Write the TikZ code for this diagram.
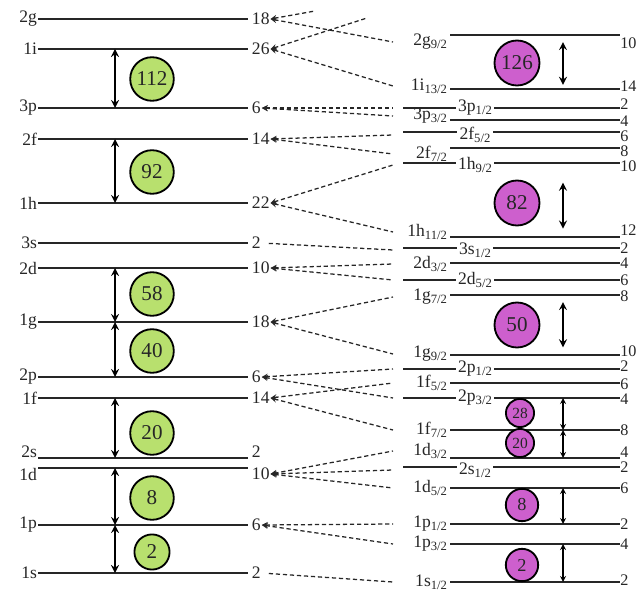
\documentclass[tikz,border=0pt]{standalone}
\usepackage{fontspec}
\setmainfont{Liberation Serif}
\definecolor{shellgreen}{RGB}{184,224,110}
\definecolor{shellpurple}{RGB}{205,95,205}
\newcommand{\lev}[2]{#1\raisebox{-.35ex}{\fontsize{9}{9}\selectfont #2/2}}
\tikzset{
  lvl/.style={line width=1.2pt, draw=black!85},
  dashlink/.style={line width=0.9pt, dash pattern=on 3pt off 2pt, draw=black!85},
  gaparrow/.style={<->, line width=1.5pt},
  thinarrow/.style={<->, line width=0.9pt},
  greenmagic/.style={circle, draw, line width=1.3pt, fill=shellgreen, minimum size=31pt, inner sep=0pt, font=\fontsize{15}{15}\selectfont},
  purplemagic/.style={circle, draw, line width=1.3pt, fill=shellpurple, minimum size=32pt, inner sep=0pt, font=\fontsize{15}{15}\selectfont},
}
\begin{document}
\begin{tikzpicture}[>=stealth, x=0.025cm, y=-0.025cm, font=\fontsize{12.5}{14}\selectfont, text=black!85]
	\useasboundingbox (0,0) rectangle (644,590);
	% oscillator levels
	\foreach \lab/\yy/\num/\ly in {2g/19/18/19, 1i/49/26/49, 3p/108/6/108, 2f/139/14/139, 1h/203/22/203, 3s/243/2/243, 2d/268/10/268, 1g/322/18/322, 2p/377/6/377, 1f/398/14/398, 2s/458/2/452, 1d/468/10/474, 1p/525/6/525, 1s/573/2/573}{
		\coordinate (y\lab) at (38,\yy);
		\draw[lvl] (y\lab) -- (248,\yy);
		\node[anchor=east, inner sep=0.5pt] (l\lab) at (38,\ly) {\lab};
		\node[anchor=west, inner sep=0.5pt] (n\lab) at (251,\ly) {\num};
	}
	% spin-orbit levels
	\foreach \nm/\yy/\ly/\base/\sub/\num/\ny/\md in {g92/35/42/2g/9/10/43/0, i132/89/86/1i/13/14/86/0, p12/108/108/3p/1/2/104/1, p32/120/116/3p/3/4/121/0, f52/132/135/2f/5/6/136/1, f72/148/154/2f/7/8/151/0, h92/163/165/1h/9/10/166/1, h112/237/232/1h/11/12/230/0, s12/248/250/3s/1/2/248/1, d32/263/264/2d/3/4/263/0, d52/280/280/2d/5/6/280/1, g72/295/297/1g/7/8/296/0, g92b/355/354/1g/9/10/351/0, p12b/369/369/2p/1/2/366/1, f52b/383/383/1f/5/6/384/0, p32b/398/398/2p/3/4/399/1, f72b/430/430/1f/7/8/430/0, d32b/458/451/1d/3/4/452/0, s12b/467/470/2s/1/2/467/1, d52b/488/488/1d/5/6/488/0, p12c/524/524/1p/1/2/524/0, p32c/544/544/1p/3/4/544/0, s12c/582/582/1s/1/2/580/0}{
		\coordinate (d\nm) at (393,\ly);
		\ifnum\md=0
			\draw[lvl] (450,\yy) coordinate (r\nm) -- (620,\yy);
			\node[anchor=east, inner sep=0.5pt] (t\nm) at (448,\ly) {\lev{\base}{\sub}};
		\else
			\draw[lvl] (403,\yy) coordinate (r\nm) -- (620,\yy);
			\node[fill=white, inner xsep=1.5pt, inner ysep=0pt] (t\nm) at (475,\ly) {\lev{\base}{\sub}};
		\fi
		\node[anchor=west, inner sep=0pt, font=\fontsize{11.5}{12}\selectfont] (m\nm) at (620,\ny) {\num};
	}
	% splitting
	\coordinate (top2g) at (315,11);
	\coordinate (top1i) at (367,18);
	\draw[dashlink,<-] (n2g.east) -- (top2g);
	\draw[dashlink,<-] (n2g.east) -- (dg92);
	\draw[dashlink,<-] (n1i.east) -- (top1i);
	\draw[dashlink,<-] (n1i.east) -- (di132);
	\draw[dashlink,<-] (n3p.east) -- (dp12);
	\draw[dashlink,<-] (n3p.east) -- (dp32);
	\draw[dashlink,<-] (n2f.east) -- (df52);
	\draw[dashlink,<-] (n2f.east) -- (df72);
	\draw[dashlink,<-] (n1h.east) -- (dh92);
	\draw[dashlink,<-] (n1h.east) -- (dh112);
	\draw[dashlink,shorten <=5pt] (n3s.east) -- (ds12);
	\draw[dashlink,<-] (n2d.east) -- (dd32);
	\draw[dashlink,<-] (n2d.east) -- (dd52);
	\draw[dashlink,<-] (n1g.east) -- (dg72);
	\draw[dashlink,<-] (n1g.east) -- (dg92b);
	\draw[dashlink,<-] (n2p.east) -- (dp12b);
	\draw[dashlink,<-] (n2p.east) -- (dp32b);
	\draw[dashlink,<-] (n1f.east) -- (df52b);
	\draw[dashlink,<-] (n1f.east) -- (df72b);
	\draw[dashlink,<-] (n1d.east) -- (dd32b);
	\draw[dashlink,<-] (n1d.east) -- (ds12b);
	\draw[dashlink,<-] (n1d.east) -- (dd52b);
	\draw[dashlink,<-] (n1p.east) -- (dp12c);
	\draw[dashlink,<-] (n1p.east) -- (dp32c);
	\draw[dashlink,shorten <=5pt] (n1s.east) -- (ds12c);
	% gaps
	\coordinate (ax) at (115,0);
	\coordinate (bx) at (563,0);
	\draw[gaparrow] (y1i -| ax) -- (y3p -| ax);
	\draw[gaparrow] (y2f -| ax) -- (y1h -| ax);
	\draw[gaparrow] (y2d -| ax) -- (y1g -| ax);
	\draw[gaparrow] (y1g -| ax) -- (y2p -| ax);
	\draw[gaparrow] (y1f -| ax) -- (y2s -| ax);
	\draw[gaparrow] (y1d -| ax) -- (y1p -| ax);
	\draw[gaparrow] (y1p -| ax) -- (y1s -| ax);
	\draw[gaparrow, shorten <=5pt, shorten >=3pt] (rg92 -| bx) -- (ri132 -| bx);
	\draw[gaparrow, shorten <=14pt, shorten >=6pt] (rh92 -| bx) -- (rh112 -| bx);
	\draw[gaparrow, shorten <=5pt, shorten >=5.5pt] (rg72 -| bx) -- (rg92b -| bx);
	\draw[thinarrow] (rp32b -| bx) -- (rf72b -| bx);
	\draw[thinarrow] (rf72b -| bx) -- (rd32b -| bx);
	\draw[thinarrow] (rd52b -| bx) -- (rp12c -| bx);
	\draw[thinarrow] (rp32c -| bx) -- (rs12c -| bx);
	% magic numbers
	\node[greenmagic] (c112) at (152,79) {112};
	\node[greenmagic] (c92) at (152,172) {92};
	\node[greenmagic] (c58) at (152,294) {58};
	\node[greenmagic] (c40) at (152,351) {40};
	\node[greenmagic] (c20) at (152,433) {20};
	\node[greenmagic] (c8) at (152,498) {8};
	\node[greenmagic, minimum size=25pt] (c2) at (152,552) {2};
	\node[purplemagic] (c126) at (517,63) {126};
	\node[purplemagic] (c82) at (517,203) {82};
	\node[purplemagic] (c50) at (517,325) {50};
	\node[purplemagic, minimum size=20pt, font=\fontsize{11}{11}\selectfont] (c28) at (520,413) {28};
	\node[purplemagic, minimum size=20pt, font=\fontsize{11}{11}\selectfont] (c20b) at (520,443) {20};
	\node[purplemagic, minimum size=23pt, font=\fontsize{13}{13}\selectfont] (c8b) at (522,505) {8};
	\node[purplemagic, minimum size=23pt, font=\fontsize{13}{13}\selectfont] (c2b) at (522,565) {2};
\end{tikzpicture}
\end{document}
